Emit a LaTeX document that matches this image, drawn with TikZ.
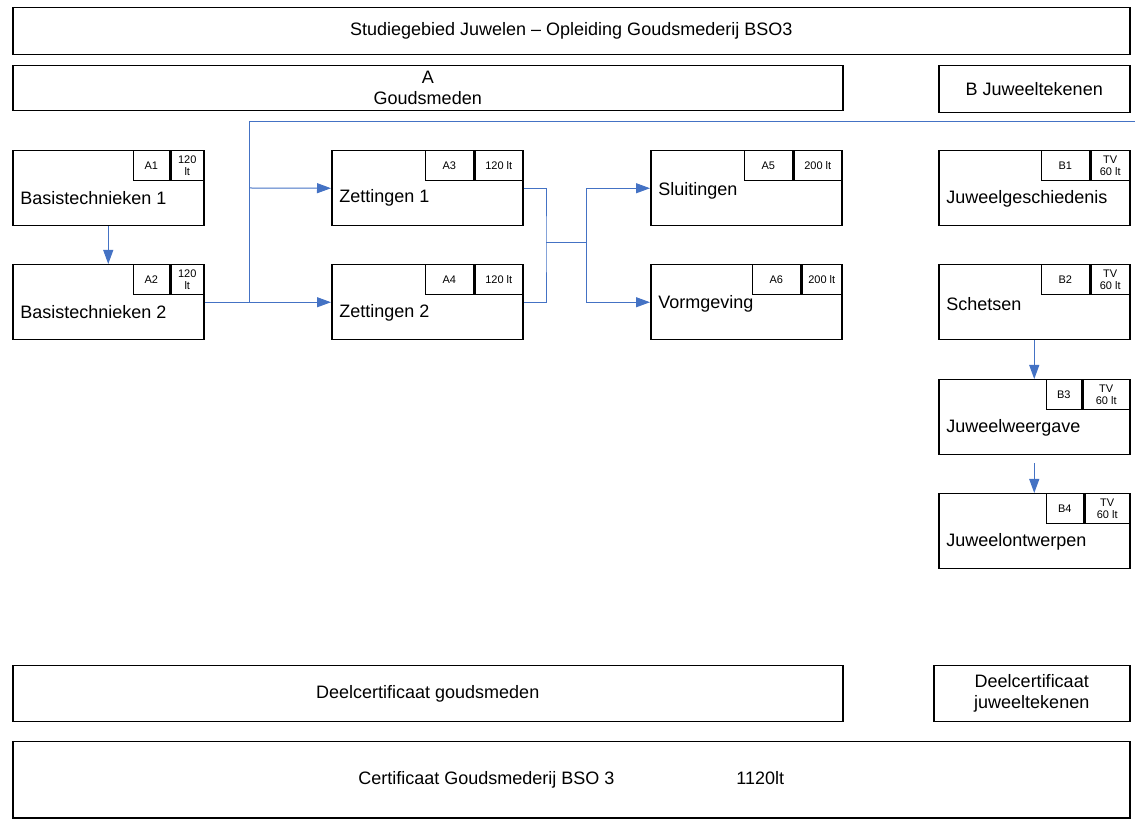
\documentclass[tikz,border=0pt]{standalone}
\usepackage{fontspec}
\setmainfont{Liberation Sans}
\usetikzlibrary{arrows.meta}
\definecolor{lijnblauw}{HTML}{4472C4}

\begin{document}
\begin{tikzpicture}[x=0.5pt, y=-0.5pt,
    kader/.style={draw, line width=0.75pt, inner sep=0pt, anchor=north west, align=center, font=\fontsize{9}{10.5}\selectfont},
    module/.style={kader, minimum width=95.5pt, minimum height=37.5pt},
    tag/.style={draw, line width=0.75pt, inner sep=0pt, anchor=north east, minimum height=15pt, align=center, font=\fontsize{5.5}{6}\selectfont},
    naam/.style={anchor=west, inner sep=0pt, font=\fontsize{9}{10.5}\selectfont},
    lijn/.style={draw=lijnblauw, line width=0.5pt},
    pijl/.style={lijn, -{Triangle[length=7pt, width=5pt]}}]

  \useasboundingbox (0,0) rectangle (1135,822);

  % kopjes
  \node[kader, minimum width=558.5pt, minimum height=23.5pt] (titel) at (12,7) {Studiegebied Juwelen – Opleiding Goudsmederij BSO3};
  \node[kader, minimum width=415pt, minimum height=22.5pt] (kopa) at (12,65) {A\\Goudsmeden};
  \node[kader, minimum width=95.5pt, minimum height=23.5pt] (kopb) at (938,65) {B Juweeltekenen};

  % modules
  \foreach \n/\x/\y/\code/\cw/\uren/\uw/\dy/\tekst in {
      a1/12/150/A1/18/{120\\lt}/16.5/-5/Basistechnieken 1,
      a2/12/264/A2/18/{120\\lt}/16.5/-5/Basistechnieken 2,
      a3/331/150/A3/24/120 lt/24/-5/Zettingen 1,
      a4/331/264/A4/24/120 lt/24/-5.5/Zettingen 2,
      a5/650/150/A5/24/200 lt/24/-1.5/Sluitingen,
      a6/650/264/A6/24/200 lt/20/-1/Vormgeving,
      b1/938/150/B1/24/{TV\\60 lt}/19.5/-5.5/Juweelgeschiedenis,
      b2/938/264/B2/24/{TV\\60 lt}/19.5/-1/Schetsen,
      b3/938/379/B3/17.5/{TV\\60 lt}/23.5/-5.5/Juweelweergave,
      b4/938/493/B4/18.5/{TV\\60 lt}/22.5/-5.5/Juweelontwerpen}{
    \node[module] (\n) at (\x,\y) {};
    \node[tag, minimum width=\uw pt] (\n u) at (\n.north east) {\uren};
    \node[tag, minimum width=\cw pt] (\n c) at (\n u.north west) {\code};
    \node[naam] (\n t) at ([xshift=4pt, yshift=\dy pt]\n.west) {\tekst};
  }

  % certificaten
  \node[kader, minimum width=415pt, minimum height=28pt] (deela) at (12,665) {Deelcertificaat goudsmeden};
  \node[kader, minimum width=98pt, minimum height=28pt] (deelb) at (933,665) {Deelcertificaat\\juweeltekenen};
  \node[kader, minimum width=558.5pt, minimum height=38pt] (cert) at (12,741) {Certificaat Goudsmederij BSO 3\hspace{61pt}1120lt};

  % verbindingen
  \coordinate (s1) at (249,302);
  \coordinate (s2) at (249,188);
  \coordinate (rand) at (1135,122);
  \coordinate (m1) at (546,243);
  \coordinate (m2) at (586,243);

  \draw[pijl] (a1) -- (a2);
  \draw[pijl] (a2.east) -- (a4.west);
  \draw[lijn] (s1) |- (rand);
  \draw[pijl] (s2) -- (a3.west);
  \draw[lijn] (a3.east) -| (m1) |- (a4.east);
  \draw[lijn] (m1) -- (m2);
  \draw[pijl] (m2) |- (a5.west);
  \draw[pijl] (m2) |- (a6.west);
  \draw[pijl] (b2) -- (b3);
  \draw[pijl] ([yshift=-4pt]b3.south) -- (b4);

\end{tikzpicture}
\end{document}
